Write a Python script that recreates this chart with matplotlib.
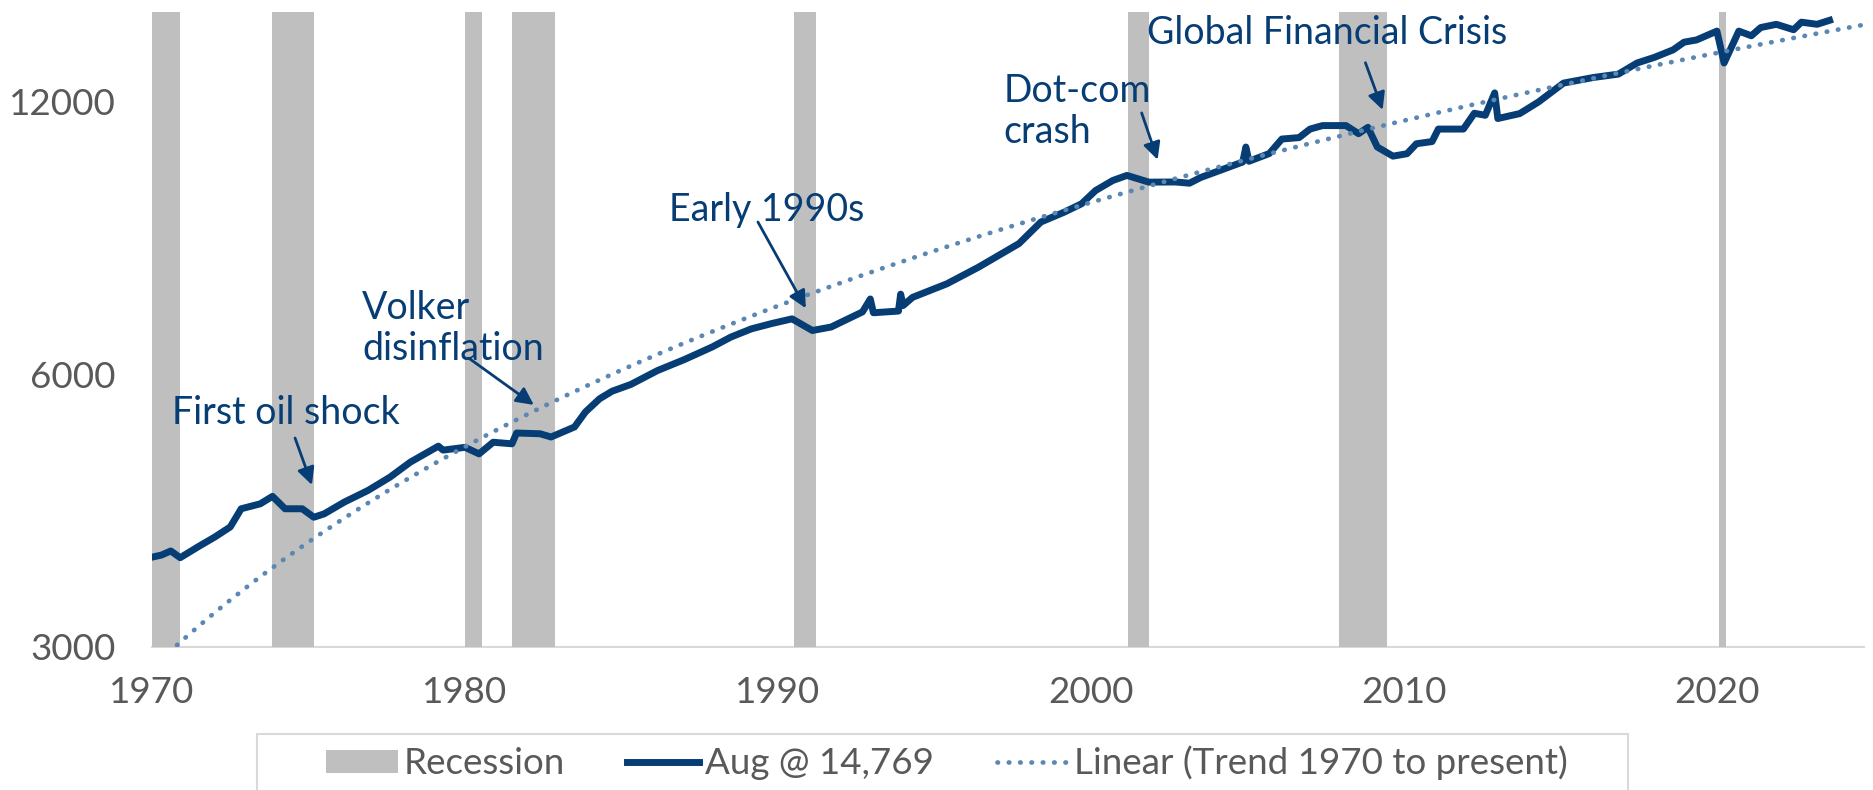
import matplotlib
matplotlib.use('Agg')
import matplotlib.pyplot as plt
import numpy as np
from matplotlib.patches import Patch, Rectangle
from matplotlib.lines import Line2D

plt.rcParams['font.family'] = ['Lato', 'DejaVu Sans']

# Series (decimal year, level)
years = [1970.0, 1970.3, 1970.6, 1970.9, 1971.5, 1972.0, 1972.5, 1972.85, 1973.46, 1973.85,
         1974.25, 1974.8, 1975.17, 1975.5, 1976.15, 1976.9, 1977.6, 1978.25, 1979.15, 1979.3,
         1980.0, 1980.45, 1980.9, 1981.5, 1981.65, 1982.4, 1982.75, 1983.5, 1983.85, 1984.3,
         1984.7, 1985.3, 1986.15, 1987.0, 1987.9, 1988.5, 1989.15, 1989.8, 1990.45, 1991.1,
         1991.7, 1992.7, 1992.95, 1993.05, 1993.85, 1993.92, 1994.0, 1994.3, 1995.4, 1996.4,
         1997.7, 1998.4, 1999.15, 1999.7, 2000.15, 2000.7, 2001.15, 2001.85, 2002.7, 2003.15,
         2003.5, 2004.15, 2004.85, 2004.95, 2005.05, 2005.7, 2006.1, 2006.65, 2007.0, 2007.4,
         2008.15, 2008.55, 2008.85, 2009.15, 2009.65, 2010.1, 2010.4, 2010.9, 2011.1, 2011.9,
         2012.25, 2012.6, 2012.9, 2013.0, 2013.7, 2014.3, 2015.1, 2016.05, 2016.85, 2017.45,
         2018.0, 2018.6, 2018.95, 2019.35, 2020.0, 2020.23, 2020.7, 2021.1, 2021.4, 2021.9,
         2022.45, 2022.7, 2023.2, 2023.6]
values = [3770, 3790, 3830, 3765, 3876, 3967, 4071, 4264, 4318, 4401,
          4264, 4264, 4173, 4209, 4338, 4467, 4620, 4800, 5000, 4950,
          4985, 4903, 5050, 5030, 5170, 5160, 5118, 5250, 5455, 5640,
          5750, 5850, 6060, 6230, 6435, 6600, 6738, 6830, 6912, 6710,
          6770, 7035, 7270, 7020, 7050, 7360, 7150, 7300, 7557, 7880,
          8370, 8842, 9068, 9262, 9580, 9828, 9955, 9786, 9790, 9760,
          9900, 10090, 10300, 10700, 10320, 10525, 10920, 10960, 11200, 11300,
          11300, 11070, 11250, 10700, 10455, 10520, 10790, 10850, 11200, 11200,
          11660, 11600, 12280, 11505, 11650, 12000, 12590, 12770, 12880, 13250,
          13440, 13700, 13970, 14050, 14370, 13250, 14370, 14200, 14500, 14620,
          14420, 14700, 14620, 14769]

# NBER recessions
rec_start = [1969.92, 1973.83, 1980.0, 1981.5, 1990.5, 2001.17, 2007.92, 2020.08]
rec_end = [1970.9, 1975.17, 1980.55, 1982.88, 1991.22, 2001.87, 2009.47, 2020.3]

# Linear trend (on levels), endpoints of the fitted line
trend_years = [1970.0, 2024.7]
trend_values = [2843, 14604]

x_ticks = [1970, 1980, 1990, 2000, 2010, 2020]
y_ticks = [3000, 6000, 12000]

# annotations: text, text anchor (year, level), arrow tail, arrow tip
notes = [
    ("First oil shock", (1970.64, 5694), (1974.57, 5105), (1975.11, 4530)),
    ("Volker\ndisinflation", (1976.71, 7444), (1980.12, 6255), (1982.2, 5553)),
    ("Early 1990s", (1986.51, 9545), (1989.36, 8842), (1990.89, 7101)),
    ("Dot-com\ncrash", (1997.21, 12920), (2001.62, 11670), (2002.13, 10360)),
    ("Global Financial Crisis", (2001.78, 14960), (2008.77, 13260), (2009.32, 11760)),
]

LINE_COLOR = '#063D74'
TREND_COLOR = '#5B87B5'
REC_COLOR = '#BFBFBF'
TEXT_GRAY = '#595959'

fig = plt.figure(figsize=(18.74, 7.9), dpi=100)
ax = fig.add_axes([152 / 1874, 1 - 647 / 790, (1864 - 152) / 1874, (647 - 12) / 790])

for s, e in zip(rec_start, rec_end):
    ax.axvspan(s, e, color=REC_COLOR, lw=0, zorder=1)

ax.plot(years, values, color=LINE_COLOR, lw=5, zorder=3, solid_joinstyle='round')

tx = np.linspace(trend_years[0], trend_years[1], 300)
ty = np.interp(tx, trend_years, trend_values)
ax.plot(tx, ty, color=TREND_COLOR, lw=3.4, linestyle=(0, (0.1, 2.3)),
        dash_capstyle='round', zorder=4)

for text, pos, tail, tip in notes:
    ax.text(pos[0], pos[1], text, color=LINE_COLOR, fontsize=27, ha='left', va='top',
            linespacing=1.17, zorder=5)
    ax.annotate('', xy=tip, xytext=tail,
                arrowprops=dict(arrowstyle='-|>', color=LINE_COLOR, lw=2,
                                mutation_scale=26, shrinkA=0, shrinkB=0),
                zorder=5)

ax.set_yscale('log')
ax.set_ylim(3000, 15085)
ax.set_xlim(1970, 2024.7)
ax.set_yticks(y_ticks)
ax.set_yticklabels([str(v) for v in y_ticks])
ax.yaxis.set_minor_locator(matplotlib.ticker.NullLocator())
ax.set_xticks(x_ticks)
ax.set_xticklabels([str(v) for v in x_ticks])
ax.tick_params(axis='both', length=0, labelsize=26.5, labelcolor=TEXT_GRAY)
ax.tick_params(axis='y', pad=26)
ax.tick_params(axis='x', pad=21)

for side in ['left', 'right', 'top']:
    ax.spines[side].set_visible(False)
ax.spines['bottom'].set_color('#D9D9D9')
ax.spines['bottom'].set_linewidth(1.5)
ax.spines['bottom'].set_zorder(0)

# legend
handles = [
    Patch(facecolor=REC_COLOR, edgecolor='none'),
    Line2D([0], [0], color=LINE_COLOR, lw=5),
    Line2D([0], [0], color=TREND_COLOR, lw=3.4, linestyle=(0, (0.1, 2.3)), dash_capstyle='round'),
]
labels = ['Recession', 'Aug @ 14,769', 'Linear (Trend 1970 to present)']
fig.legend(handles, labels, loc='center', bbox_to_anchor=(947 / 1874, 1 - 763 / 790),
           ncol=3, frameon=False, fontsize=26.5, labelcolor=TEXT_GRAY,
           handlelength=1.95, handleheight=0.6, handletextpad=0.16, columnspacing=1.7)
fig.patches.append(Rectangle((257 / 1874, -0.1), (1628 - 257) / 1874, 0.1 + (790 - 734) / 790,
                             transform=fig.transFigure, facecolor='none',
                             edgecolor='#D9D9D9', lw=1.5))

fig.savefig('out.png', dpi=100)
